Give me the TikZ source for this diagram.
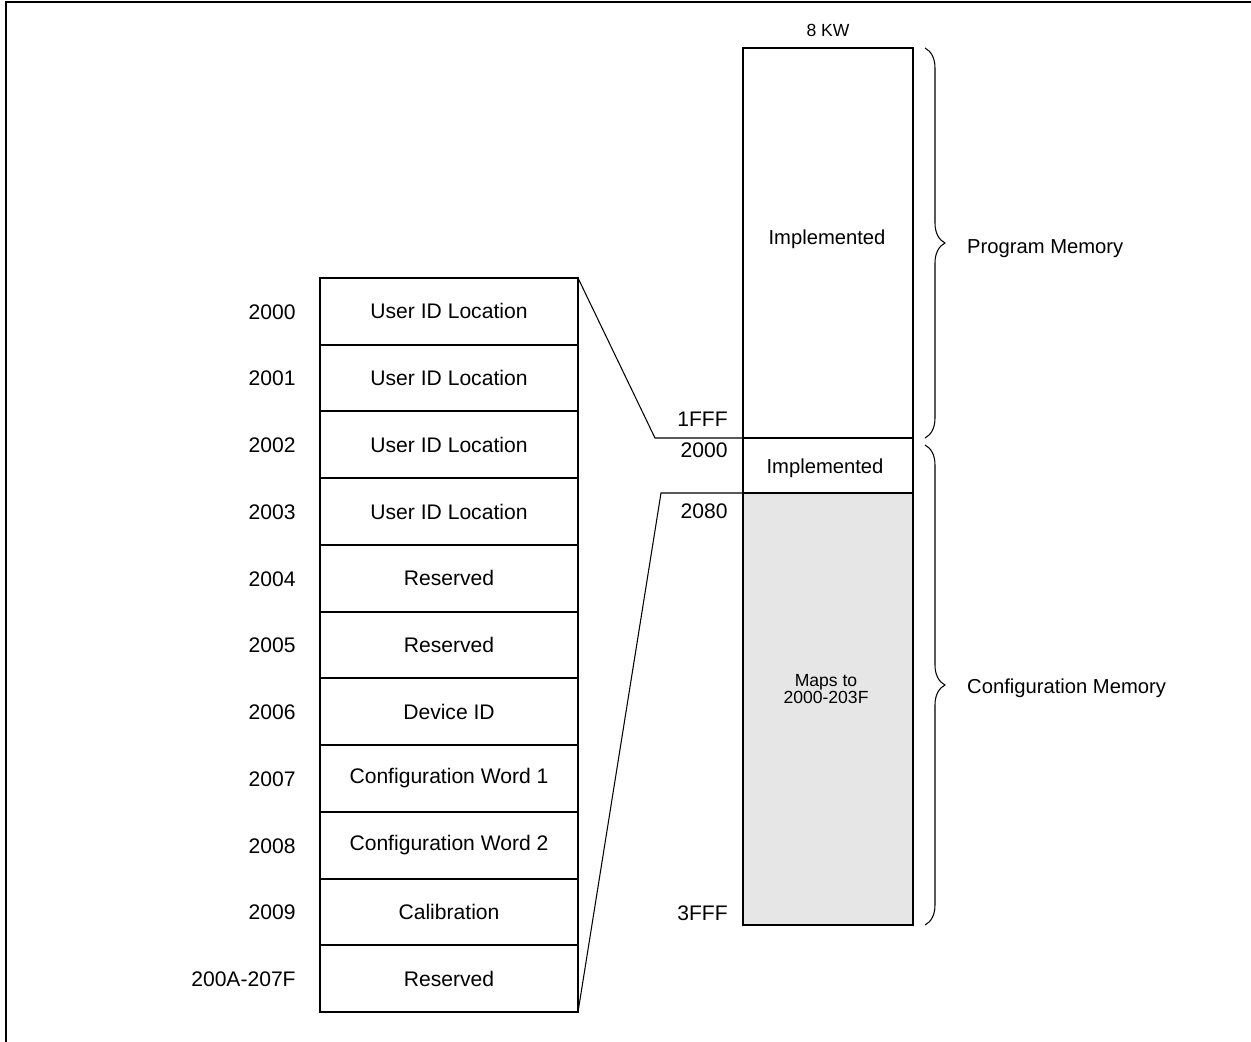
\documentclass[tikz,border=0pt]{standalone}
\usepackage{fontspec}
\setmainfont{Liberation Sans}
\usetikzlibrary{decorations.pathreplacing}
\definecolor{mapgray}{HTML}{E6E6E6}

\begin{document}
\begin{tikzpicture}[x=0.2mm, y=-0.2mm,
	cell/.style={draw, line width=1.1pt, anchor=north west, minimum width=5.16cm, minimum height=1.334cm, inner sep=0pt, outer sep=0pt, font=\fontsize{12}{14}\selectfont},
	addr/.style={anchor=east, inner sep=0pt, font=\fontsize{12}{14}\selectfont},
	brace/.style={decorate, decoration={brace, amplitude=0.4cm}, line width=0.6pt}]
	\useasboundingbox (0, 0) rectangle (1251, 1042);
	\draw[line width=1.1pt] (6, 1042) -- (6, 2) -- (1251, 2);
	% configuration words
	\foreach \txt/\adr [count=\i from 0] in {User ID Location/2000, User ID Location/2001, User ID Location/2002, User ID Location/2003, Reserved/2004, Reserved/2005, Device ID/2006, Configuration Word 1/2007, Configuration Word 2/2008, Calibration/2009, Reserved/200A-207F} {
		\node[cell] (row\i) at (320, 278+66.73*\i) {\txt};
		\node[addr] (adr\i) at (296, 312+66.73*\i) {\adr};
	}
	% memory map
	\node[cell, minimum width=3.4cm, minimum height=7.8cm] (prog) at (743, 48) {};
	\node[cell, minimum width=3.4cm, minimum height=1.1cm] (cfg) at (743, 438) {};
	\node[cell, fill=mapgray, minimum width=3.4cm, minimum height=8.64cm] (maps) at (743, 493) {};
	\node[font=\fontsize{11.5}{14}\selectfont] (progtxt) at (827, 239) {Implemented};
	\node[font=\fontsize{11.5}{14}\selectfont] (cfgtxt) at (825, 468) {Implemented};
	\node[align=center, font=\fontsize{10}{10}\selectfont] (mapstxt) at (826, 689) {Maps to\\2000-203F};
	\node[font=\fontsize{10}{12}\selectfont] (kw) at (828, 30) {8 KW};
	\node[addr] (a1fff) at (728, 419) {1FFF};
	\node[addr] (a2000) at (728, 450) {2000};
	\node[addr] (a2080) at (728, 511) {2080};
	\node[addr] (a3fff) at (728, 913) {3FFF};
	\coordinate (kneeA) at (655, 438);
	\coordinate (kneeB) at (661, 493);
	\draw[line width=0.6pt] (row0.north east) -- (kneeA) -- (cfg.north west);
	\draw[line width=0.6pt] (row10.south east) -- (kneeB) -- (maps.north west);
	\draw[brace] (925, 48) -- (925, 438);
	\draw[brace] (925, 445) -- (925, 925);
	\node[anchor=west, font=\fontsize{11.5}{14}\selectfont] (pm) at (961, 249) {Program Memory};
	\node[anchor=west, font=\fontsize{11.5}{14}\selectfont] (cm) at (961, 688) {Configuration Memory};
\end{tikzpicture}
\end{document}
